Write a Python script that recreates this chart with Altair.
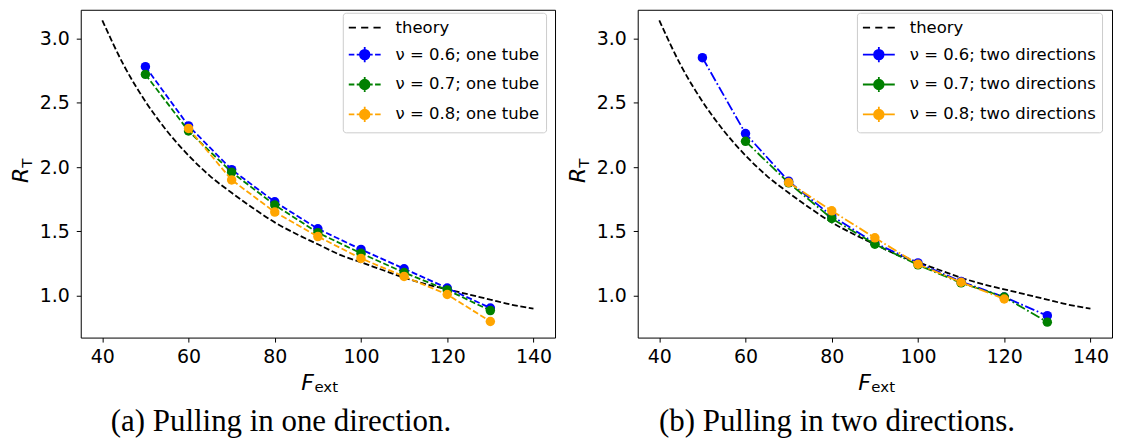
import altair as alt
import pandas as pd

# ---------------- data ----------------
F_EXT = [50, 60, 70, 80, 90, 100, 110, 120, 130]

THEORY_F = [40, 45, 50, 55, 60, 65, 70, 75, 80, 85, 90, 95, 100,
            105, 110, 115, 120, 125, 130, 135, 140]
THEORY_R = [3.14, 2.79, 2.51, 2.28, 2.09, 1.93, 1.80, 1.68, 1.57, 1.48, 1.40,
            1.32, 1.26, 1.20, 1.14, 1.09, 1.05, 1.01, 0.97, 0.93, 0.90]

ONE_TUBE_06 = [2.78, 2.32, 1.98, 1.73, 1.52, 1.36, 1.21, 1.06, 0.905]
ONE_TUBE_07 = [2.72, 2.28, 1.96, 1.705, 1.49, 1.33, 1.18, 1.045, 0.885]
ONE_TUBE_08 = [None, 2.30, 1.90, 1.65, 1.46, 1.29, 1.15, 1.01, 0.80]

TWO_DIR_06 = [2.85, 2.26, 1.89, 1.62, 1.41, 1.255, 1.11, 0.99, 0.845]
TWO_DIR_07 = [None, 2.20, 1.877, 1.60, 1.40, 1.24, 1.10, 0.99, 0.795]
TWO_DIR_08 = [None, None, 1.88, 1.66, 1.45, 1.245, 1.105, 0.975, None]

LABELS_ONE = ["theory", "ν = 0.6; one tube", "ν = 0.7; one tube", "ν = 0.8; one tube"]
LABELS_TWO = ["theory", "ν = 0.6; two directions", "ν = 0.7; two directions",
              "ν = 0.8; two directions"]

X_TICKS = [40, 60, 80, 100, 120, 140]
Y_TICKS = [1.0, 1.5, 2.0, 2.5, 3.0]

CAPTION_A = "(a) Pulling in one direction."
CAPTION_B = "(b) Pulling in two directions."

# ---------------- styles ----------------
COLORS = ["#0000ff", "#008000", "#ffa500"]
DASHED = [6, 2.6]
DASHDOT = [10, 2.6, 1.7, 2.6]
W, H = 476, 329
FONT = "DejaVu Sans"

CIRC = ("M0.6,0A0.6,0.6 0 1 1 -0.6,0A0.6,0.6 0 1 1 0.6,0"
        "M0.38,0A0.38,0.38 0 1 1 -0.38,0A0.38,0.38 0 1 1 0.38,0"
        "M0.16,0A0.16,0.16 0 1 1 -0.16,0A0.16,0.16 0 1 1 0.16,0")
ERRBAR = "M0,-0.95V0.95"
SYM_THEORY = "M-2,0H-1.1M-0.45,0H0.45M1.1,0H2"
SYM_DASHED = "M-2,0H-1.3M-1.0,0H1.0M1.3,0H2" + ERRBAR + CIRC
SYM_DASHDOT = "M-2,0H2" + ERRBAR + CIRC

ANCHOR = pd.DataFrame({"k": [0]})

X = alt.X("F:Q", scale=alt.Scale(domain=[35, 145], nice=False, zero=False),
          axis=alt.Axis(values=X_TICKS, title=None, format="d"))
Y = alt.Y("R:Q", scale=alt.Scale(domain=[0.675, 3.222], nice=False, zero=False),
          axis=alt.Axis(values=Y_TICKS, title=None, format=".1f"))


def text(t, x, y, **kw):
    return alt.Chart(ANCHOR).mark_text(text=t, **kw).encode(x=alt.value(x), y=alt.value(y))


def panel(series, labels, dash, sym, caption, legend_x, caption_x):
    theory_df = pd.DataFrame({"F": THEORY_F, "R": THEORY_R})
    layers = [alt.Chart(theory_df).mark_line(
        color="black", strokeDash=DASHED, strokeWidth=1.8, interpolate="monotone"
    ).encode(x=X, y=Y)]
    for vals, col in zip(series, COLORS):
        df = pd.DataFrame({"F": F_EXT, "R": vals}).dropna()
        layers.append(alt.Chart(df).mark_line(
            color=col, strokeDash=dash, strokeWidth=1.8).encode(x=X, y=Y))
        layers.append(alt.Chart(df).mark_point(
            filled=True, color=col, size=90, opacity=1).encode(x=X, y=Y))

    leg = dict(title=None, orient="none", legendX=legend_x, legendY=3,
               padding=6, fillColor="white", strokeColor="#cccccc", cornerRadius=3,
               symbolSize=256, symbolStrokeWidth=1.8, symbolOffset=7,
               labelOffset=22, rowPadding=6, labelFont=FONT, labelFontSize=16.5,
               labelColor="black", labelLimit=500)
    legend_df = pd.DataFrame({"series": labels})
    layers.append(alt.Chart(legend_df).mark_point(filled=False, opacity=1)
                  .transform_filter("false")
                  .encode(color=alt.Color("series:N",
                                          scale=alt.Scale(domain=labels, range=["black"] + COLORS),
                                          legend=alt.Legend(**leg)),
                          shape=alt.Shape("series:N",
                                          scale=alt.Scale(domain=labels,
                                                          range=[SYM_THEORY, sym, sym, sym]),
                                          legend=alt.Legend(**leg))))

    # axis titles and caption
    layers.append(text("R", -52.5, 158.5, angle=270, align="right", baseline="alphabetic",
                       font=FONT, fontSize=22, fontStyle="italic", color="black"))
    layers.append(text("T", -48.5, 158.5, angle=270, align="left", baseline="alphabetic",
                       font=FONT, fontSize=15, color="black"))
    layers.append(text("F", 234, 381.5, align="right", baseline="alphabetic",
                       font=FONT, fontSize=22, fontStyle="italic", color="black"))
    layers.append(text("ext", 234.5, 384, align="left", baseline="alphabetic",
                       font=FONT, fontSize=15, color="black"))
    layers.append(text(caption, caption_x, 422.5, align="center", baseline="alphabetic",
                       font="Liberation Serif", fontSize=31, color="black"))
    return alt.layer(*layers).properties(width=W, height=H)


left = panel([ONE_TUBE_06, ONE_TUBE_07, ONE_TUBE_08], LABELS_ONE, DASHED,
             SYM_DASHED, CAPTION_A, 263, 201)
right = panel([TWO_DIR_06, TWO_DIR_07, TWO_DIR_08], LABELS_TWO, DASHDOT,
              SYM_DASHDOT, CAPTION_B, 220, 200)

chart = (alt.hconcat(left, right, spacing=83, bounds="flush")
         .resolve_scale(color="independent", shape="independent")
         .resolve_legend(color="independent", shape="independent")
         .properties(padding={"left": 2, "top": 0, "right": 0, "bottom": 0})
         .configure_view(stroke="black", strokeWidth=1)
         .configure_axis(grid=False, domain=False, labelFont=FONT, labelFontSize=19,
                         labelColor="black", tickColor="black", tickSize=4.5, tickWidth=1,
                         labelPadding=7)
         .configure_axisX(labelPadding=6))

chart.save("out.html", embed_options={"renderer": "svg", "actions": False})
